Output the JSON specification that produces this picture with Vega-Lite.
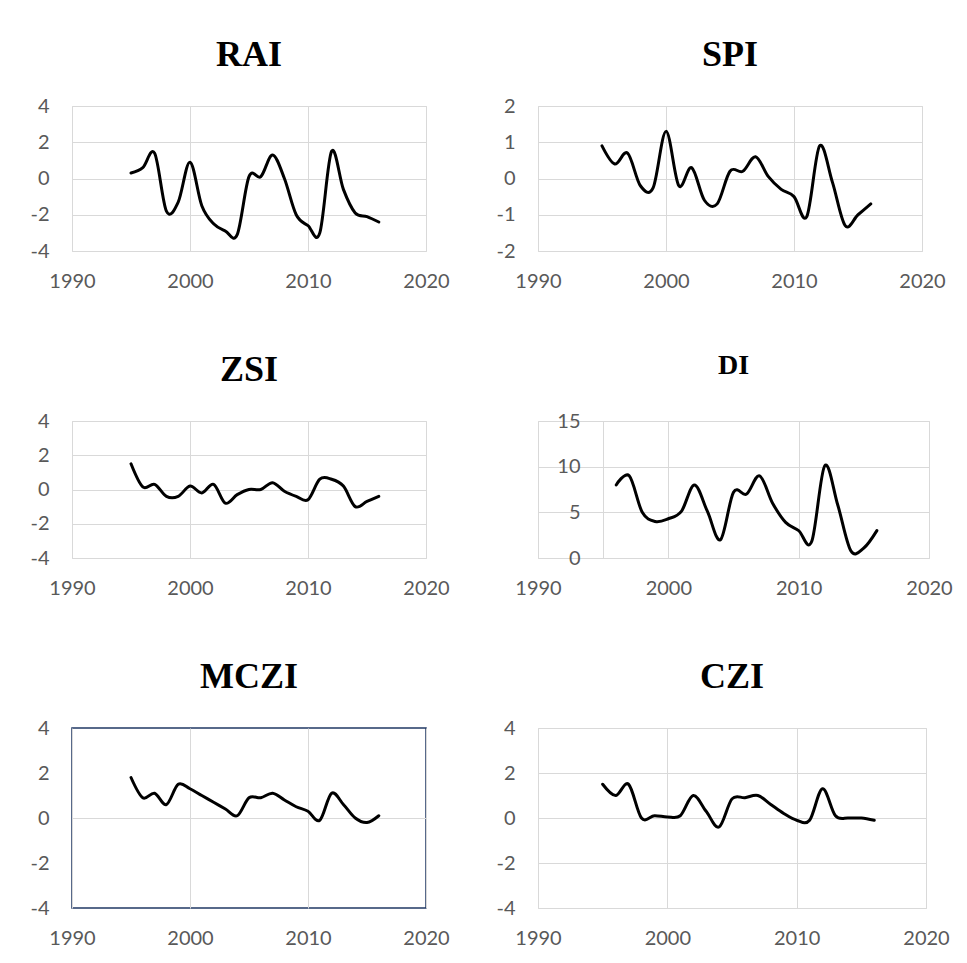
{
  "$schema": "https://vega.github.io/schema/vega-lite/v6.json",
  "background": "white",
  "padding": {"left": 29, "top": 36, "right": 5, "bottom": 5},
  "data": {"values": [
    {"index": "RAI", "year": 1995, "value": 0.3},
    {"index": "RAI", "year": 1996, "value": 0.6},
    {"index": "RAI", "year": 1997, "value": 1.4},
    {"index": "RAI", "year": 1998, "value": -1.8},
    {"index": "RAI", "year": 1999, "value": -1.3},
    {"index": "RAI", "year": 2000, "value": 0.9},
    {"index": "RAI", "year": 2001, "value": -1.5},
    {"index": "RAI", "year": 2002, "value": -2.5},
    {"index": "RAI", "year": 2003, "value": -2.9},
    {"index": "RAI", "year": 2004, "value": -3.1},
    {"index": "RAI", "year": 2005, "value": 0.1},
    {"index": "RAI", "year": 2006, "value": 0.1},
    {"index": "RAI", "year": 2007, "value": 1.3},
    {"index": "RAI", "year": 2008, "value": 0.0},
    {"index": "RAI", "year": 2009, "value": -2.0},
    {"index": "RAI", "year": 2010, "value": -2.6},
    {"index": "RAI", "year": 2011, "value": -3.0},
    {"index": "RAI", "year": 2012, "value": 1.5},
    {"index": "RAI", "year": 2013, "value": -0.6},
    {"index": "RAI", "year": 2014, "value": -1.9},
    {"index": "RAI", "year": 2015, "value": -2.1},
    {"index": "RAI", "year": 2016, "value": -2.4},
    {"index": "SPI", "year": 1995, "value": 0.9},
    {"index": "SPI", "year": 1996, "value": 0.4},
    {"index": "SPI", "year": 1997, "value": 0.7},
    {"index": "SPI", "year": 1998, "value": -0.2},
    {"index": "SPI", "year": 1999, "value": -0.25},
    {"index": "SPI", "year": 2000, "value": 1.3},
    {"index": "SPI", "year": 2001, "value": -0.2},
    {"index": "SPI", "year": 2002, "value": 0.3},
    {"index": "SPI", "year": 2003, "value": -0.6},
    {"index": "SPI", "year": 2004, "value": -0.7},
    {"index": "SPI", "year": 2005, "value": 0.2},
    {"index": "SPI", "year": 2006, "value": 0.2},
    {"index": "SPI", "year": 2007, "value": 0.6},
    {"index": "SPI", "year": 2008, "value": 0.05},
    {"index": "SPI", "year": 2009, "value": -0.3},
    {"index": "SPI", "year": 2010, "value": -0.5},
    {"index": "SPI", "year": 2011, "value": -1.05},
    {"index": "SPI", "year": 2012, "value": 0.9},
    {"index": "SPI", "year": 2013, "value": -0.1},
    {"index": "SPI", "year": 2014, "value": -1.3},
    {"index": "SPI", "year": 2015, "value": -1.0},
    {"index": "SPI", "year": 2016, "value": -0.7},
    {"index": "ZSI", "year": 1995, "value": 1.5},
    {"index": "ZSI", "year": 1996, "value": 0.15},
    {"index": "ZSI", "year": 1997, "value": 0.3},
    {"index": "ZSI", "year": 1998, "value": -0.4},
    {"index": "ZSI", "year": 1999, "value": -0.4},
    {"index": "ZSI", "year": 2000, "value": 0.2},
    {"index": "ZSI", "year": 2001, "value": -0.2},
    {"index": "ZSI", "year": 2002, "value": 0.3},
    {"index": "ZSI", "year": 2003, "value": -0.8},
    {"index": "ZSI", "year": 2004, "value": -0.3},
    {"index": "ZSI", "year": 2005, "value": 0.0},
    {"index": "ZSI", "year": 2006, "value": 0.0},
    {"index": "ZSI", "year": 2007, "value": 0.4},
    {"index": "ZSI", "year": 2008, "value": -0.1},
    {"index": "ZSI", "year": 2009, "value": -0.4},
    {"index": "ZSI", "year": 2010, "value": -0.6},
    {"index": "ZSI", "year": 2011, "value": 0.6},
    {"index": "ZSI", "year": 2012, "value": 0.6},
    {"index": "ZSI", "year": 2013, "value": 0.2},
    {"index": "ZSI", "year": 2014, "value": -1.0},
    {"index": "ZSI", "year": 2015, "value": -0.7},
    {"index": "ZSI", "year": 2016, "value": -0.4},
    {"index": "DI", "year": 1996, "value": 8.0},
    {"index": "DI", "year": 1997, "value": 9.0},
    {"index": "DI", "year": 1998, "value": 5.0},
    {"index": "DI", "year": 1999, "value": 4.0},
    {"index": "DI", "year": 2000, "value": 4.3},
    {"index": "DI", "year": 2001, "value": 5.1},
    {"index": "DI", "year": 2002, "value": 8.0},
    {"index": "DI", "year": 2003, "value": 5.1},
    {"index": "DI", "year": 2004, "value": 2.0},
    {"index": "DI", "year": 2005, "value": 7.2},
    {"index": "DI", "year": 2006, "value": 7.0},
    {"index": "DI", "year": 2007, "value": 9.0},
    {"index": "DI", "year": 2008, "value": 6.0},
    {"index": "DI", "year": 2009, "value": 3.9},
    {"index": "DI", "year": 2010, "value": 3.0},
    {"index": "DI", "year": 2011, "value": 1.8},
    {"index": "DI", "year": 2012, "value": 10.1},
    {"index": "DI", "year": 2013, "value": 5.8},
    {"index": "DI", "year": 2014, "value": 0.8},
    {"index": "DI", "year": 2015, "value": 1.1},
    {"index": "DI", "year": 2016, "value": 3.0},
    {"index": "MCZI", "year": 1995, "value": 1.8},
    {"index": "MCZI", "year": 1996, "value": 0.9},
    {"index": "MCZI", "year": 1997, "value": 1.1},
    {"index": "MCZI", "year": 1998, "value": 0.6},
    {"index": "MCZI", "year": 1999, "value": 1.5},
    {"index": "MCZI", "year": 2000, "value": 1.3},
    {"index": "MCZI", "year": 2001, "value": 1.0},
    {"index": "MCZI", "year": 2002, "value": 0.7},
    {"index": "MCZI", "year": 2003, "value": 0.4},
    {"index": "MCZI", "year": 2004, "value": 0.1},
    {"index": "MCZI", "year": 2005, "value": 0.9},
    {"index": "MCZI", "year": 2006, "value": 0.9},
    {"index": "MCZI", "year": 2007, "value": 1.1},
    {"index": "MCZI", "year": 2008, "value": 0.8},
    {"index": "MCZI", "year": 2009, "value": 0.5},
    {"index": "MCZI", "year": 2010, "value": 0.3},
    {"index": "MCZI", "year": 2011, "value": -0.1},
    {"index": "MCZI", "year": 2012, "value": 1.1},
    {"index": "MCZI", "year": 2013, "value": 0.6},
    {"index": "MCZI", "year": 2014, "value": 0.0},
    {"index": "MCZI", "year": 2015, "value": -0.2},
    {"index": "MCZI", "year": 2016, "value": 0.1},
    {"index": "CZI", "year": 1995, "value": 1.5},
    {"index": "CZI", "year": 1996, "value": 1.0},
    {"index": "CZI", "year": 1997, "value": 1.5},
    {"index": "CZI", "year": 1998, "value": 0.0},
    {"index": "CZI", "year": 1999, "value": 0.1},
    {"index": "CZI", "year": 2000, "value": 0.05},
    {"index": "CZI", "year": 2001, "value": 0.1},
    {"index": "CZI", "year": 2002, "value": 1.0},
    {"index": "CZI", "year": 2003, "value": 0.3},
    {"index": "CZI", "year": 2004, "value": -0.4},
    {"index": "CZI", "year": 2005, "value": 0.85},
    {"index": "CZI", "year": 2006, "value": 0.9},
    {"index": "CZI", "year": 2007, "value": 1.0},
    {"index": "CZI", "year": 2008, "value": 0.6},
    {"index": "CZI", "year": 2009, "value": 0.2},
    {"index": "CZI", "year": 2010, "value": -0.1},
    {"index": "CZI", "year": 2011, "value": -0.1},
    {"index": "CZI", "year": 2012, "value": 1.3},
    {"index": "CZI", "year": 2013, "value": 0.1},
    {"index": "CZI", "year": 2014, "value": 0.0},
    {"index": "CZI", "year": 2015, "value": 0.0},
    {"index": "CZI", "year": 2016, "value": -0.1}
  ]},
  "bounds": "flush",
  "columns": 2,
  "spacing": {"row": 170, "column": 112},
  "concat": [
    {
      "title": "RAI",
      "width": 354, "height": 145,
      "transform": [{"filter": "datum.index === 'RAI'"}],
      "mark": {"type": "line", "interpolate": "cardinal", "color": "black", "strokeWidth": 3, "strokeCap": "round"},
      "encoding": {
        "x": {"field": "year", "type": "quantitative", "scale": {"domain": [1990, 2020], "nice": false, "zero": false}, "axis": {"values": [1990, 2000, 2010, 2020], "format": "d", "title": null}},
        "y": {"field": "value", "type": "quantitative", "scale": {"domain": [-4, 4], "nice": false}, "axis": {"values": [-4, -2, 0, 2, 4], "title": null, "labelExpr": "'' + datum.value"}}
      }
    },
    {
      "title": "SPI",
      "width": 384, "height": 145,
      "transform": [{"filter": "datum.index === 'SPI'"}],
      "mark": {"type": "line", "interpolate": "cardinal", "color": "black", "strokeWidth": 3, "strokeCap": "round"},
      "encoding": {
        "x": {"field": "year", "type": "quantitative", "scale": {"domain": [1990, 2020], "nice": false, "zero": false}, "axis": {"values": [1990, 2000, 2010, 2020], "format": "d", "title": null}},
        "y": {"field": "value", "type": "quantitative", "scale": {"domain": [-2, 2], "nice": false}, "axis": {"values": [-2, -1, 0, 1, 2], "title": null, "labelExpr": "'' + datum.value"}}
      }
    },
    {
      "title": "ZSI",
      "width": 354, "height": 137,
      "transform": [{"filter": "datum.index === 'ZSI'"}],
      "mark": {"type": "line", "interpolate": "cardinal", "color": "black", "strokeWidth": 3, "strokeCap": "round"},
      "encoding": {
        "x": {"field": "year", "type": "quantitative", "scale": {"domain": [1990, 2020], "nice": false, "zero": false}, "axis": {"values": [1990, 2000, 2010, 2020], "format": "d", "title": null}},
        "y": {"field": "value", "type": "quantitative", "scale": {"domain": [-4, 4], "nice": false}, "axis": {"values": [-4, -2, 0, 2, 4], "title": null, "labelExpr": "'' + datum.value"}}
      }
    },
    {
      "title": {"text": "DI", "fontSize": 28, "offset": 31},
      "width": 391, "height": 137,
      "transform": [{"filter": "datum.index === 'DI'"}],
      "mark": {"type": "line", "interpolate": "cardinal", "color": "black", "strokeWidth": 3, "strokeCap": "round"},
      "encoding": {
        "x": {"field": "year", "type": "quantitative", "scale": {"domain": [1990, 2020], "nice": false, "zero": false}, "axis": {"values": [1990, 2000, 2010, 2020], "format": "d", "title": null}},
        "y": {"field": "value", "type": "quantitative", "scale": {"domain": [0, 15], "nice": false}, "axis": {"values": [0, 5, 10, 15], "title": null, "offset": -65, "domain": true, "domainColor": "#d9d9d9", "domainWidth": 1, "labelExpr": "'' + datum.value"}}
      }
    },
    {
      "title": "MCZI",
      "width": 354, "height": 180,
      "view": {"stroke": "#203864", "strokeWidth": 1.5},
      "transform": [{"filter": "datum.index === 'MCZI'"}],
      "mark": {"type": "line", "interpolate": "cardinal", "color": "black", "strokeWidth": 3, "strokeCap": "round"},
      "encoding": {
        "x": {"field": "year", "type": "quantitative", "scale": {"domain": [1990, 2020], "nice": false, "zero": false}, "axis": {"values": [1990, 2000, 2010, 2020], "format": "d", "title": null}},
        "y": {"field": "value", "type": "quantitative", "scale": {"domain": [-4, 4], "nice": false}, "axis": {"values": [-4, -2, 0, 2, 4], "title": null, "labelExpr": "'' + datum.value", "gridColor": {"condition": {"test": "datum.value === 0", "value": "#d9d9d9"}, "value": "transparent"}}}
      }
    },
    {
      "title": "CZI",
      "width": 388, "height": 180,
      "transform": [{"filter": "datum.index === 'CZI'"}],
      "mark": {"type": "line", "interpolate": "cardinal", "color": "black", "strokeWidth": 3, "strokeCap": "round"},
      "encoding": {
        "x": {"field": "year", "type": "quantitative", "scale": {"domain": [1990, 2020], "nice": false, "zero": false}, "axis": {"values": [1990, 2000, 2010, 2020], "format": "d", "title": null}},
        "y": {"field": "value", "type": "quantitative", "scale": {"domain": [-4, 4], "nice": false}, "axis": {"values": [-4, -2, 0, 2, 4], "title": null, "labelExpr": "'' + datum.value"}}
      }
    }
  ],
  "config": {
    "view": {"stroke": "#d9d9d9", "strokeWidth": 1},
    "axis": {"domain": false, "ticks": false, "tickSize": 0, "grid": true, "gridColor": "#d9d9d9", "gridWidth": 1, "labelFont": "Lato", "labelFontSize": 20, "labelColor": "#595959", "labelPadding": 23, "labelFlush": false, "labelOverlap": false},
    "axisX": {"labelPadding": 20},
    "title": {"font": "Liberation Serif", "fontSize": 36, "fontWeight": "bold", "color": "black", "anchor": "middle", "offset": 22}
  }
}
